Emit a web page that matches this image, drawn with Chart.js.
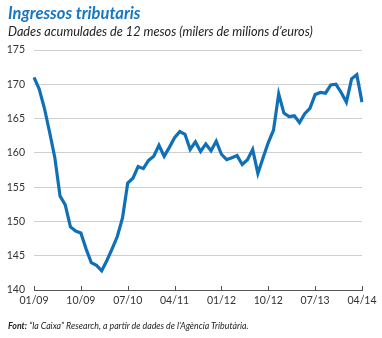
<!DOCTYPE html>
<html>
<head>
<meta charset="utf-8">
<script src="https://cdn.jsdelivr.net/npm/chart.js@4"></script>
<style>
  body { margin: 0; background: #fff; font-family: Lato, sans-serif; }
  #wrap { position: relative; width: 382px; height: 338px; overflow: hidden; }
  #title { position: absolute; left: 8px; top: 3px; font-size: 16.5px; font-weight: bold; font-style: italic; color: #1677c2; }
  #subtitle { position: absolute; left: 8px; top: 23px; font-size: 12.7px; font-style: italic; color: #222; }
  #source { position: absolute; left: 8px; top: 320px; font-size: 8.8px; font-style: italic; color: #222; }
  canvas { position: absolute; left: 0; top: 0; }
</style>
</head>
<body>
<div id="wrap">
  <canvas id="c" width="382" height="338"></canvas>
  <div id="title">Ingressos tributaris</div>
  <div id="subtitle">Dades acumulades de 12 mesos (milers de milions d’euros)</div>
  <div id="source"><b>Font:</b> “la Caixa” Research, a partir de dades de l’Agència Tributària.</div>
</div>
<script>
// months 01/09 .. 04/14
const months = [
    "01/09","02/09","03/09","04/09","05/09","06/09","07/09","08/09","09/09","10/09","11/09","12/09",
    "01/10","02/10","03/10","04/10","05/10","06/10","07/10","08/10","09/10","10/10","11/10","12/10",
    "01/11","02/11","03/11","04/11","05/11","06/11","07/11","08/11","09/11","10/11","11/11","12/11",
    "01/12","02/12","03/12","04/12","05/12","06/12","07/12","08/12","09/12","10/12","11/12","12/12",
    "01/13","02/13","03/13","04/13","05/13","06/13","07/13","08/13","09/13","10/13","11/13","12/13",
    "01/14","02/14","03/14","04/14"
];

const ingressos = [
    171.0, 169.3, 166.5, 163.0, 159.3, 153.7, 152.4, 149.2, 148.6, 148.3, 146.0, 144.0,
    143.6, 142.8, 144.3, 146.0, 147.8, 150.5, 155.6, 156.3, 158.0, 157.7, 158.9, 159.5,
    161.1, 159.5, 160.8, 162.2, 163.1, 162.7, 160.5, 161.6, 160.2, 161.3, 160.3, 161.7,
    159.8, 159.0, 159.3, 159.6, 158.3, 159.0, 160.5, 157.0, 159.3, 161.5, 163.3, 168.6,
    165.8, 165.3, 165.4, 164.4, 165.7, 166.5, 168.5, 168.8, 168.7, 169.9, 170.0, 168.8,
    167.4, 170.8, 171.4, 167.4
];

const tickLabels = ["01/09", "10/09", "07/10", "04/11", "01/12", "10/12", "07/13", "04/14"];

// small upward tick marks on the x axis
const upTicks = {
    id: "upTicks",
    afterDraw(chart) {
        const ctx = chart.ctx;
        const x = chart.scales.x;
        const bottom = chart.chartArea.bottom;
        ctx.save();
        ctx.strokeStyle = "#555";
        ctx.lineWidth = 1;
        months.forEach((m, i) => {
            if (!tickLabels.includes(m)) return;
            const px = Math.round(x.getPixelForValue(i)) + 0.5;
            ctx.beginPath();
            ctx.moveTo(px, bottom);
            ctx.lineTo(px, bottom - 4);
            ctx.stroke();
        });
        ctx.restore();
    }
};

new Chart(document.getElementById("c"), {
    type: "line",
    data: {
        labels: months,
        datasets: [{
            data: ingressos,
            borderColor: "#0f70b7",
            borderWidth: 3.2,
            pointRadius: 0,
            tension: 0,
            fill: false
        }]
    },
    options: {
        responsive: false,
        animation: false,
        layout: { padding: { top: 50, right: 20, bottom: 28, left: 0 } },
        plugins: { legend: { display: false }, tooltip: { enabled: false } },
        scales: {
            x: {
                offset: false,
                grid: { display: false, drawTicks: false },
                border: { display: true, color: "#555", width: 1 },
                afterFit: s => { s.height = 20; },
                ticks: {
                    autoSkip: false,
                    maxRotation: 0,
                    padding: 4,
                    color: "#333",
                    font: { family: "Lato", size: 10.5 },
                    callback: function (v, i) {
                        const m = months[i];
                        return tickLabels.includes(m) ? m : null;
                    }
                }
            },
            y: {
                min: 140,
                max: 175,
                grid: { color: "#cfcfcf", lineWidth: 1, drawTicks: false },
                border: { display: false },
                afterFit: s => { s.width = 34; },
                ticks: {
                    stepSize: 5,
                    padding: 9,
                    color: "#333",
                    font: { family: "Lato", size: 10.5 }
                }
            }
        }
    },
    plugins: [upTicks]
});
</script>
</body>
</html>
